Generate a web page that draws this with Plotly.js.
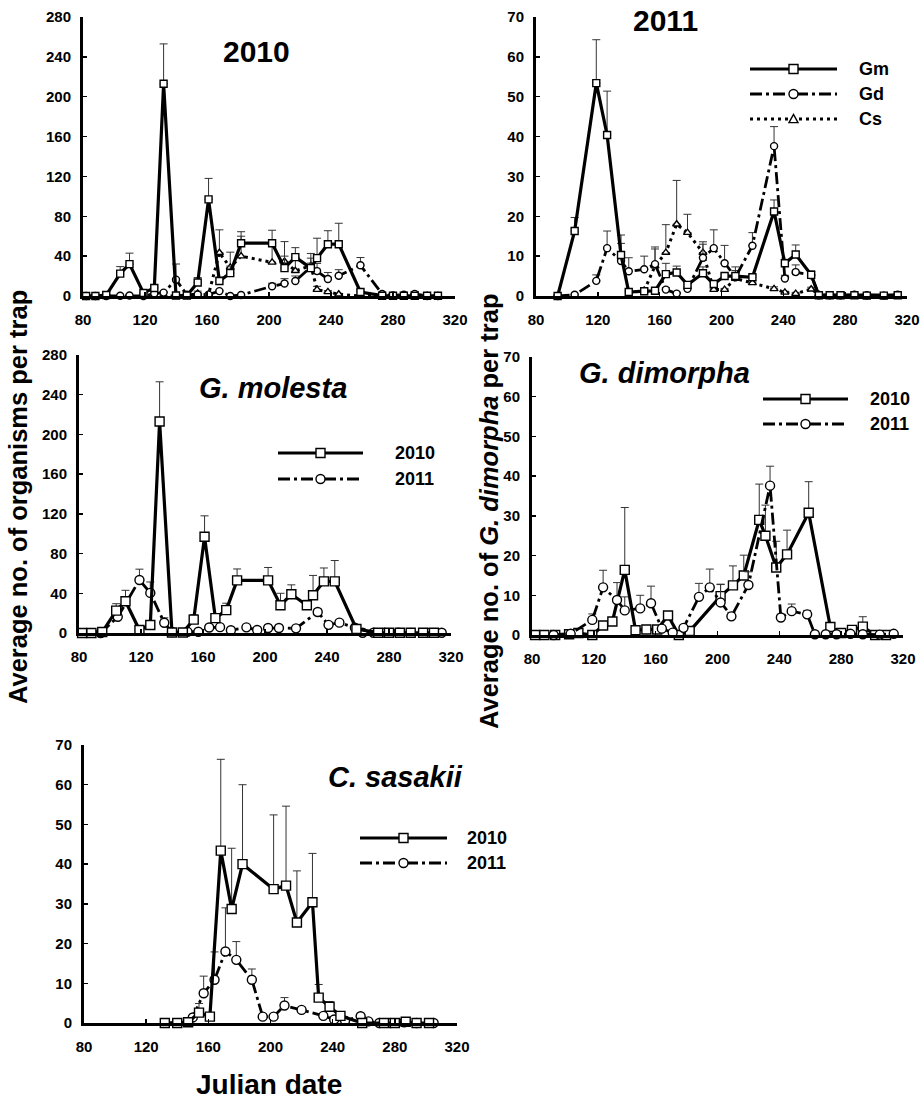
<!DOCTYPE html>
<html>
<head>
<meta charset="utf-8">
<script src="https://cdn.plot.ly/plotly-3.0.1.min.js"></script>
<style>html,body{margin:0;padding:0;background:#fff;}#chart{width:921px;height:1099px;}</style>
</head>
<body>
<div id="chart"></div>
<script>
// ---------------- DATA ----------------
const dates2010 = [82, 88, 95, 104, 110, 119, 126, 132, 140, 147, 154, 161, 168, 175, 182, 202, 210, 217, 227, 231, 238, 245, 259, 273, 280, 287, 294, 302, 309];
const gm2010    = [0, 0, 1, 22.5, 32, 3, 8, 213, 0.5, 0.5, 13.5, 97, 15, 23, 53, 53, 28, 39, 28, 38, 52, 52, 4, 0.3, 0.2, 0.2, 0.2, 0.2, 0.2];
const gm2010Err = [0, 0, 0, 7, 11, 1, 2, 40, 0, 0, 5, 21, 4, 7, 11.5, 13, 12, 9.5, 5, 20, 13.5, 21, 2, 0, 0, 0, 0, 0, 0];
const gd2010    = [0, 0, 0, 0.2, 0.5, 0, 2.4, 3.4, 16.4, 1.2, 1.4, 1.4, 4.9, 0, 1, 9.8, 12.5, 15, 29, 25, 17, 20.3, 30.8, 2, 0.5, 1.3, 2.1, 0, 0];
const gd2010Err = [0, 0, 0, 0, 0, 0, 0.5, 0.8, 15.7, 0.3, 0.4, 0.4, 1, 0, 0.3, 3, 4.9, 5.1, 9, 7.7, 6.6, 6.1, 7.8, 0.5, 0.2, 0.5, 2.5, 0, 0];
const csDates2010 = [132, 140, 147, 154, 161, 168, 175, 182, 202, 210, 217, 227, 231, 238, 245, 259, 273, 280, 287, 294, 302];
const cs2010    = [0, 0, 0.2, 2.6, 1.6, 43.4, 28.7, 40, 33.7, 34.6, 25.3, 30.4, 6.4, 4.1, 1.8, 0, 0, 0, 0.3, 0, 0];
const cs2010Err = [0, 0, 0, 2.3, 0.5, 23, 15.3, 20, 18.7, 20, 13, 12.3, 3.3, 1.3, 0.5, 0, 0, 0, 0, 0, 0];

const dates2011 = [94, 105, 119, 126, 135, 140, 150, 157, 164, 171, 178, 188, 195, 202, 209, 220, 234, 241, 248, 258, 263, 270, 277, 286, 294, 305, 314];
const gm2011    = [0, 16.3, 53.4, 40.4, 10.3, 1, 1.2, 1.3, 5.5, 5.9, 2.8, 5.7, 3, 5, 5, 4.7, 21.2, 8.2, 10.4, 5.3, 0.2, 0.2, 0.2, 0.2, 0.1, 0.1, 0.2];
const gm2011Err = [0, 3.4, 10.9, 11, 5, 0.3, 0.3, 0.3, 2.7, 1.6, 0.5, 1.6, 0.5, 0.5, 2.3, 0.5, 2.9, 1, 2.4, 1, 0, 0, 0, 0, 0, 0, 0];
const gd2011    = [0, 0.3, 3.8, 12, 8.8, 6.2, 6.7, 8, 1.6, 0.6, 1.8, 9.6, 12, 8.2, 4.7, 12.6, 37.6, 4.4, 6, 5.2, 0.2, 0.2, 0.2, 0.3, 0.2, 0.1, 0.3];
const gd2011Err = [0, 0, 1.5, 4.3, 4.4, 3.4, 3.3, 4.3, 0.5, 0, 0.5, 3.4, 4.6, 4.5, 1, 3.3, 4.9, 0.8, 1.8, 1, 0, 0, 0, 0, 0, 0, 0];
const csDates2011 = [150, 157, 164, 171, 178, 188, 195, 202, 209, 220, 234, 241, 248, 258, 263, 270, 277, 286, 294, 305];
const cs2011    = [1.4, 7.5, 10.9, 18, 15.9, 10.9, 1.6, 1.6, 4.4, 3.3, 1.8, 0.9, 0.6, 1.7, 0.4, 0, 0, 0.2, 0, 0];
const cs2011Err = [0.5, 4.3, 7, 11, 4.6, 2.7, 0.3, 0.3, 2, 0.5, 0.5, 0.3, 0.3, 0.5, 0, 0, 0, 0, 0, 0];

const xTickVals = [80, 120, 160, 200, 240, 280, 320];
const panelTitles = ['2010', '2011', '<i>G. molesta</i>', '<i>G. dimorpha</i>', '<i>C. sasakii</i>'];
const speciesLegend = ['Gm', 'Gd', 'Cs'];
const yearLegend = ['2010', '2011'];
const yTitleAll = 'Average no. of organisms per trap';
const yTitleGd = 'Average no. of <i>G. dimorpha</i> per trap';
const xTitle = 'Julian date';

// ---------------- LAYOUT HELPERS ----------------
const W = 921, H = 1099;
const FONT = 'Liberation Sans, Arial, sans-serif';
const px = p => p / W;
const py = p => 1 - p / H;

const panels = [
  {x0: 83,  x1: 455, y0: 17,  y1: 296, ymax: 280, dy: 40, ms: 7},
  {x0: 536, x1: 907, y0: 17,  y1: 296, ymax: 70,  dy: 10, ms: 7},
  {x0: 79,  x1: 451, y0: 355, y1: 633, ymax: 280, dy: 40, ms: 9},
  {x0: 532, x1: 903, y0: 357, y1: 635, ymax: 70,  dy: 10, ms: 9},
  {x0: 84,  x1: 457, y0: 745, y1: 1023, ymax: 70, dy: 10, ms: 9}
];

const STY = {
  solid:   {dash: 'solid', width: 3.2},
  dashdot: {dash: '12px,4px,3px,4px', width: 2.8},
  dot:     {dash: '3px,4px', width: 3}
};

function series(xs, ys, errs, panelIdx, style, symbol) {
  const n = panelIdx === 0 ? '' : String(panelIdx + 1);
  const ms = panels[panelIdx].ms;
  return {
    type: 'scatter', mode: 'lines+markers',
    x: xs, y: ys,
    xaxis: 'x' + n, yaxis: 'y' + n,
    cliponaxis: false,
    showlegend: false,
    line: {color: 'black', width: STY[style].width, dash: STY[style].dash},
    marker: {symbol: symbol, size: ms, color: 'white',
             line: {color: 'black', width: 1.4}},
    error_y: {type: 'data', symmetric: false, array: errs,
              arrayminus: errs.map(() => 0), color: '#333', thickness: 1, width: 4},
    hoverinfo: 'skip'
  };
}

const data = [
  // Panel 1: 2010
  series(csDates2010, cs2010, cs2010Err, 0, 'dot', 'triangle-up'),
  series(dates2010, gd2010, gd2010Err, 0, 'dashdot', 'circle'),
  series(dates2010, gm2010, gm2010Err, 0, 'solid', 'square'),
  // Panel 2: 2011
  series(csDates2011, cs2011, cs2011Err, 1, 'dot', 'triangle-up'),
  series(dates2011, gd2011, gd2011Err, 1, 'dashdot', 'circle'),
  series(dates2011, gm2011, gm2011Err, 1, 'solid', 'square'),
  // Panel 3: G. molesta
  series(dates2011, gm2011, gm2011Err, 2, 'dashdot', 'circle'),
  series(dates2010, gm2010, gm2010Err, 2, 'solid', 'square'),
  // Panel 4: G. dimorpha
  series(dates2010, gd2010, gd2010Err, 3, 'solid', 'square'),
  series(dates2011, gd2011, gd2011Err, 3, 'dashdot', 'circle'),
  // Panel 5: C. sasakii
  series(csDates2011, cs2011, cs2011Err, 4, 'dashdot', 'circle'),
  series(csDates2010, cs2010, cs2010Err, 4, 'solid', 'square')
];

const layout = {
  width: W, height: H,
  margin: {l: 0, r: 0, t: 0, b: 0},
  paper_bgcolor: 'white', plot_bgcolor: 'white',
  showlegend: false,
  font: {family: FONT, color: 'black'},
  annotations: [], shapes: []
};

panels.forEach((p, i) => {
  const n = i === 0 ? '' : String(i + 1);
  const common = {
    showline: true, linewidth: 3, linecolor: 'black', mirror: false,
    ticks: 'inside', ticklen: 4, tickwidth: 1.5, tickcolor: 'black',
    showgrid: false, zeroline: false, fixedrange: true,
    tickfont: {family: FONT, size: 15, color: 'black', weight: 'bold'}
  };
  layout['xaxis' + n] = Object.assign({}, common, {
    domain: [px(p.x0), px(p.x1)], anchor: 'y' + n,
    range: [80, 320], tickmode: 'array', tickvals: xTickVals,
    ticklabelstandoff: 8
  });
  layout['yaxis' + n] = Object.assign({}, common, {
    domain: [py(p.y1), py(p.y0)], anchor: 'x' + n,
    range: [0, p.ymax], dtick: p.dy, tick0: 0,
    ticklabelstandoff: 6
  });
});

function ann(text, x, y, size, opts) {
  layout.annotations.push(Object.assign({
    text: text, xref: 'paper', yref: 'paper', x: px(x), y: py(y),
    xanchor: 'center', yanchor: 'middle', showarrow: false,
    font: {family: FONT, size: size, color: 'black', weight: 'bold'}
  }, opts || {}));
}

// Panel titles
ann(panelTitles[0], 256, 51, 30);
ann(panelTitles[1], 665, 21, 30);
ann(panelTitles[2], 273, 388, 29);
ann(panelTitles[3], 664, 373, 29);
ann(panelTitles[4], 395, 777, 29);

// Axis titles
ann(yTitleAll, 18, 497, 25.5, {textangle: -90});
ann(yTitleGd, 489, 512, 25.5, {textangle: -90});
ann(xTitle, 269, 1084, 28);

// Legends (drawn in pixel space)
function legendItem(xl, xr, y, style, symbol, label, textX) {
  layout.shapes.push({type: 'line', xref: 'paper', yref: 'paper',
    x0: px(xl), x1: px(xr), y0: py(y), y1: py(y),
    line: {color: 'black', width: STY[style].width, dash: STY[style].dash}});
  const xm = (xl + xr) / 2, r = 4.5;
  if (symbol === 'square') {
    layout.shapes.push({type: 'rect', xref: 'paper', yref: 'paper',
      x0: px(xm - r), x1: px(xm + r), y0: py(y + r), y1: py(y - r),
      fillcolor: 'white', line: {color: 'black', width: 1.4}});
  } else if (symbol === 'circle') {
    layout.shapes.push({type: 'circle', xref: 'paper', yref: 'paper',
      x0: px(xm - r), x1: px(xm + r), y0: py(y + r), y1: py(y - r),
      fillcolor: 'white', line: {color: 'black', width: 1.4}});
  } else {
    const path = 'M' + px(xm - r) + ',' + py(y + r * 0.8) + ' L' + px(xm + r) + ',' + py(y + r * 0.8) +
                 ' L' + px(xm) + ',' + py(y - r) + ' Z';
    layout.shapes.push({type: 'path', xref: 'paper', yref: 'paper', path: path,
      fillcolor: 'white', line: {color: 'black', width: 1.4}});
  }
  ann(label, textX, y, 18, {xanchor: 'left'});
}

legendItem(750, 837, 69, 'solid', 'square', speciesLegend[0], 857);
legendItem(750, 837, 94, 'dashdot', 'circle', speciesLegend[1], 857);
legendItem(750, 837, 119, 'dot', 'triangle', speciesLegend[2], 857);

legendItem(278, 363, 453, 'solid', 'square', yearLegend[0], 393);
legendItem(278, 363, 479, 'dashdot', 'circle', yearLegend[1], 393);

legendItem(763, 848, 399, 'solid', 'square', yearLegend[0], 868);
legendItem(763, 848, 424, 'dashdot', 'circle', yearLegend[1], 868);

legendItem(360, 447, 838, 'solid', 'square', yearLegend[0], 465);
legendItem(360, 447, 863, 'dashdot', 'circle', yearLegend[1], 465);

Plotly.newPlot('chart', data, layout, {staticPlot: true, displayModeBar: false});
</script>
</body>
</html>
